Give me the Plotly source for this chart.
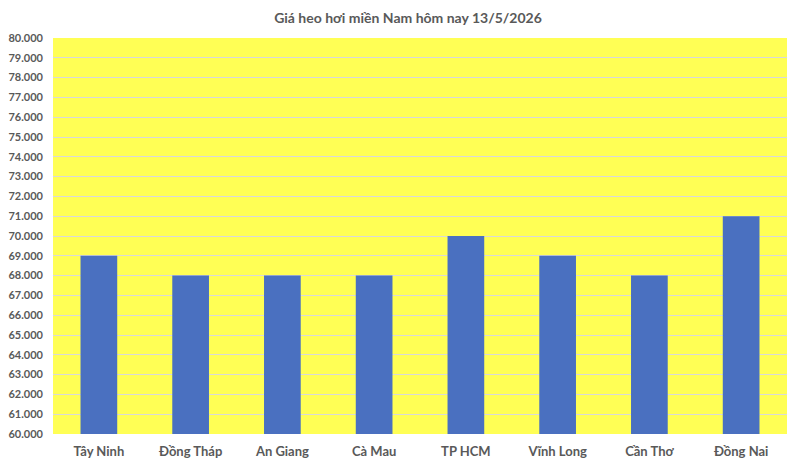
import plotly.graph_objects as go

categories = ["Tây Ninh", "Đồng Tháp", "An Giang", "Cà Mau", "TP HCM", "Vĩnh Long", "Cần Thơ", "Đồng Nai"]
prices = [69000, 68000, 68000, 68000, 70000, 69000, 68000, 71000]
title_text = "Giá heo hơi miền Nam hôm nay 13/5/2026"

fig = go.Figure()
fig.add_trace(go.Bar(x=categories, y=prices, marker_color="#4A70C0", marker_line_width=0, width=0.4))

font_family = "Lato, 'Open Sans', sans-serif"
fig.update_layout(
    width=800, height=468,
    margin=dict(l=45, r=21, t=30, b=42),
    paper_bgcolor="white",
    plot_bgcolor="#FFFF55",
    separators=",.",
    title=dict(text="<b>" + title_text + "</b>", x=0.5, xanchor="center", xref="container",
               y=0.979, yanchor="middle", yref="container",
               font=dict(family=font_family, size=14, color="#595959")),
    showlegend=False,
    bargap=0.6,
    xaxis=dict(showgrid=False, showline=False, ticks="", ticklabelstandoff=8, automargin=False,
               tickfont=dict(family=font_family, size=13, color="#595959", weight="bold")),
    yaxis=dict(range=[60000, 80000], dtick=1000, tickformat=",d", showgrid=True, automargin=False,
               gridcolor="#D9D9D9", gridwidth=1, zeroline=False, ticks="", ticklabelstandoff=9,
               tickfont=dict(family=font_family, size=11, color="#595959", weight="bold")),
)

fig.write_html("out.html")
